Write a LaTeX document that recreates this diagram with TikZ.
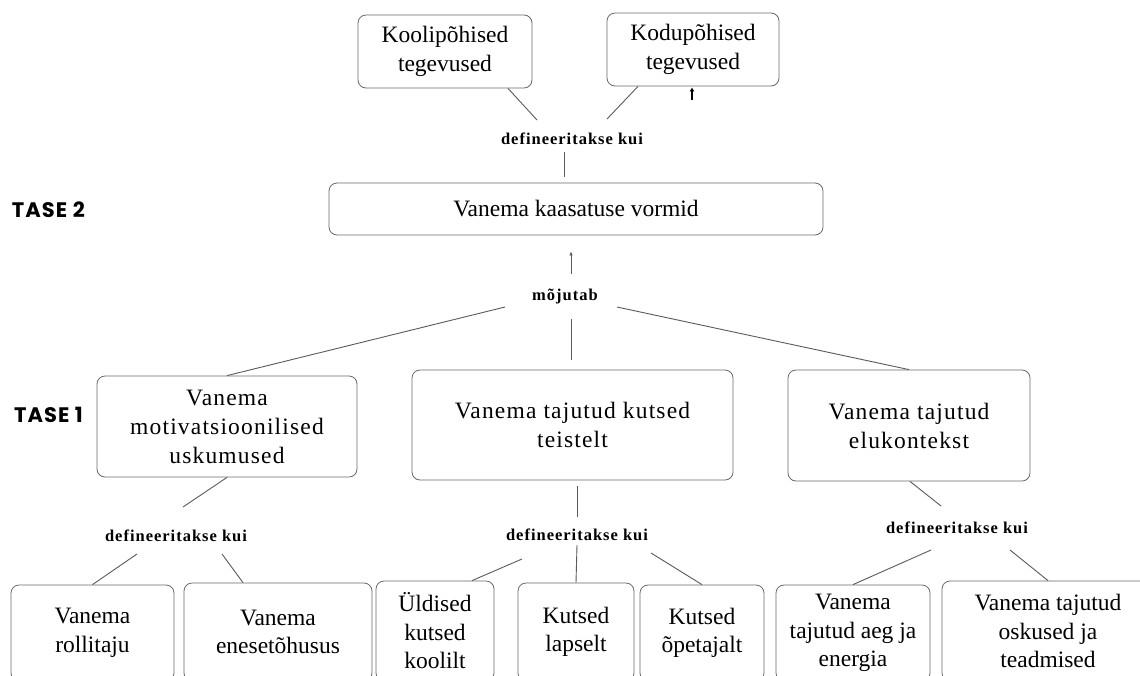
\documentclass[tikz,border=0pt]{standalone}
\usepackage{fontspec}
\setmainfont{Liberation Serif}
\newfontfamily\lsserif[LetterSpace=5]{Liberation Serif}
\newfontfamily\lblfont[LetterSpace=6]{Liberation Serif}
\newfontfamily\tasefont[LetterSpace=5]{Poppins}
\usetikzlibrary{calc,arrows.meta}
\definecolor{boxgray}{RGB}{105,105,105}
\definecolor{linegray}{RGB}{90,90,90}
\begin{document}
\begin{tikzpicture}[x=1pt,y=-1pt,
  box/.style={draw=boxgray, line width=0.8pt, rounded corners=8pt, inner sep=0pt, align=center,
    font=\fontsize{23.5}{28.5}\selectfont},
  lvlbox/.style={box, font=\lsserif\fontsize{23.5}{29}\selectfont},
  lbl/.style={inner sep=0pt, font=\lblfont\bfseries\fontsize{16.5}{19}\selectfont},
  tase/.style={inner sep=0pt, anchor=east, font=\tasefont\bfseries\fontsize{21}{24}\selectfont},
  conn/.style={draw=linegray, line width=0.9pt},
  upar/.style={conn, -{Latex[length=4pt,width=3.5pt]}}
]
\useasboundingbox (0,0) rectangle (1140,675);
\fill[white] (0,0) rectangle (1140,675);
\clip (0,0) rectangle (1140,675);

% ---- level 2 top ----
\node[box, minimum width=174pt, minimum height=73pt] (koolib) at (445,51.5) {Koolipõhised\\tegevused};
\node[box, minimum width=172pt, minimum height=73pt] (kodub) at (693,49.5) {Kodupõhised\\tegevused};
\node[lbl] (def0) at (572,139) {defineeritakse kui};
\node[box, minimum width=494pt, minimum height=52pt] (mainb) at (576,209) {Vanema kaasatuse vormid};
\node[tase] (t2) at (85,210) {TASE 2};

\draw[conn] ($(koolib.south)+(63,0)$) -- ($(def0.center)+(-35,-19)$);
\draw[conn] ($(kodub.south)+(-55,0)$) -- ($(def0.center)+(35,-20)$);
\draw[conn] ($(def0.center)+(-8,13)$) -- ($(mainb.north)+(-12,-6)$);
\draw[draw=black, line width=2pt, -{Latex[length=4pt,width=5pt]}] ($(kodub.south)+(-1,14)$) -- ($(kodub.south)+(-1,1)$);

% ---- mõjutab ----
\node[lbl] (moj) at (565,297) {mõjutab};
\draw[upar] ($(moj.center)+(6,-23)$) -- ($(mainb.south)+(-5,16)$);

% ---- level 1 ----
\node[tase] (t1) at (83,415) {TASE 1};
\node[lvlbox, minimum width=260pt, minimum height=101pt] (box1) at (227,426.5) {Vanema\\motivatsioonilised\\uskumused};
\node[lvlbox, minimum width=321pt, minimum height=110pt] (midb) at (572.5,425) {Vanema tajutud kutsed\\teistelt};
\node[lvlbox, minimum width=242pt, minimum height=111pt] (rightb) at (909,425.5) {Vanema tajutud\\elukontekst};

\draw[conn] ($(moj.center)+(-60,10)$) -- (box1.north);
\draw[conn] ($(moj.center)+(6,22)$) -- ($(midb.north)+(-1.5,-10)$);
\draw[conn] ($(moj.center)+(52,10)$) -- (rightb.north);

% ---- definitions ----
\node[lbl] (defL) at (176,536) {defineeritakse kui};
\node[lbl] (defM) at (577,535) {defineeritakse kui};
\node[lbl] (defR) at (957,528) {defineeritakse kui};

\draw[conn] (box1.south) -- ($(defL.center)+(7,-29)$);
\draw[conn] ($(midb.south)+(4.5,6)$) -- ($(defM.center)+(0,-18)$);
\draw[conn] ($(rightb.south)+(1,0)$) -- ($(defR.center)+(-16,-22)$);

% ---- bottom boxes ----
\node[box, minimum width=163pt, minimum height=96pt] (A) at (92.5,633) {Vanema\\rollitaju};
\node[box, minimum width=188pt, minimum height=98pt] (B) at (278,632) {Vanema\\enesetõhusus};
\node[box, minimum width=118pt, minimum height=100pt] (C) at (435,631) {Üldised\\kutsed\\koolilt};
\node[box, minimum width=116pt, minimum height=98pt] (D) at (576,632) {Kutsed\\lapselt};
\node[box, minimum width=124pt, minimum height=96pt] (E) at (702,633) {Kutsed\\õpetajalt};
\node[box, minimum width=154pt, minimum height=96pt] (F) at (853,633) {Vanema\\tajutud aeg ja\\energia};
\node[box, minimum width=212pt, minimum height=100pt] (G) at (1048,631) {Vanema tajutud\\oskused ja\\teadmised};

\draw[conn] ($(defL.center)+(-39,18)$) -- (A.north);
\draw[conn] ($(defL.center)+(46,18)$) -- ($(B.north)+(-35,0)$);
\draw[conn] ($(defM.center)+(-55,24)$) -- ($(C.north)+(37,0)$);
\draw[conn] ($(defM.center)+(0,10)$) -- (D.north);
\draw[conn] ($(defM.center)+(74,18)$) -- (E.north);
\draw[conn] ($(defR.center)+(-26,22)$) -- (F.north);
\draw[conn] ($(defR.center)+(53,22)$) -- (G.north);
\end{tikzpicture}
\end{document}
